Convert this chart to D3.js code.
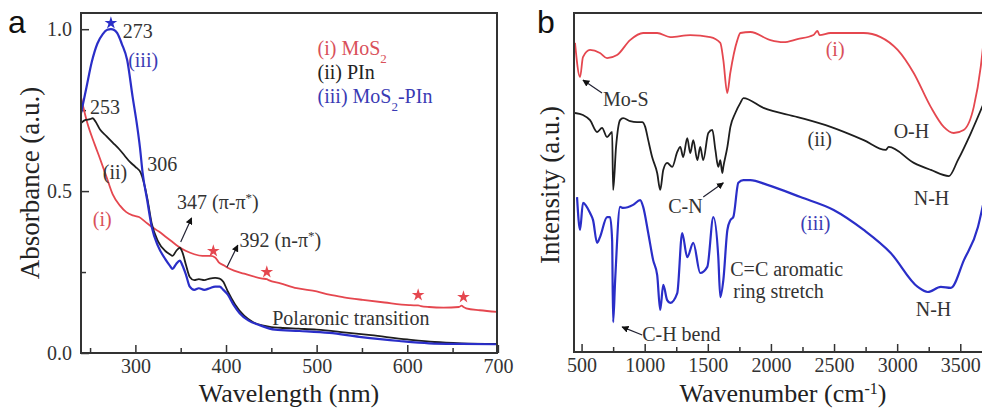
<!DOCTYPE html>
<html>
<head>
<meta charset="utf-8">
<script src="https://cdn.jsdelivr.net/npm/d3@7"></script>
<style>
  body { margin: 0; background: #fff; }
  svg { display: block; }
  svg text { font-family: "Liberation Serif", "Times New Roman", Times, serif; }
</style>
</head>
<body>
<svg id="chart" width="982" height="410"></svg>
<script>
// ---- panel a : UV-vis absorbance ----
const wlMoS2 = [240,247,255,261,268,275,283,290,297,304,311,318,326,333,340,347,356,365,374,383,388,392,398,404,420,440,445,447,460,478,500,514,530,551,575,602,610,612,615,624,640,657,660,662,665,680,699];
const absMoS2 = [0.79,0.71,0.645,0.60,0.545,0.49,0.455,0.435,0.425,0.42,0.405,0.39,0.375,0.36,0.345,0.33,0.315,0.305,0.30,0.30,0.295,0.28,0.27,0.26,0.245,0.23,0.228,0.225,0.215,0.20,0.19,0.18,0.172,0.164,0.156,0.148,0.147,0.147,0.145,0.142,0.14,0.142,0.146,0.142,0.138,0.132,0.127];

const wlPIn = [240,245,250,253,256,261,268,275,282,288,294,300,306,313,318,325,333,338,341,345,349,352,356,360,365,370,376,382,388,393,397,402,410,420,430,440,450,460,480,500,530,560,600,630,660,699];
const absPIn = [0.71,0.72,0.722,0.725,0.715,0.69,0.67,0.65,0.63,0.61,0.59,0.575,0.556,0.48,0.40,0.345,0.315,0.305,0.30,0.315,0.325,0.31,0.27,0.235,0.225,0.228,0.225,0.23,0.232,0.23,0.22,0.19,0.15,0.115,0.095,0.085,0.08,0.078,0.075,0.072,0.064,0.055,0.042,0.034,0.030,0.028];

const wlMoS2PIn = [240,246,252,258,264,269,273,277,280,285,291,297,302,305,308,313,318,325,333,338,341,345,349,352,356,360,365,370,376,382,388,393,397,402,408,415,425,437,454,481,514,547,591,624,660,699];
const absMoS2PIn = [0.74,0.82,0.90,0.955,0.985,0.998,1.0,0.997,0.988,0.955,0.904,0.79,0.70,0.636,0.556,0.472,0.39,0.33,0.29,0.27,0.26,0.275,0.285,0.27,0.24,0.205,0.195,0.20,0.195,0.20,0.205,0.205,0.195,0.18,0.15,0.123,0.10,0.086,0.072,0.068,0.062,0.05,0.037,0.03,0.028,0.027];

const starWlMoS2 = [386,445,612,662];
const starAbsMoS2 = [0.315,0.25,0.179,0.173];
const starWlMix = [273];
const starAbsMix = [1.019];

const xTicksA = [300,400,500,600,700];
const xMinorA = [250,350,450,550,650];
const yTicksA = [0.0,0.5,1.0];
const yMinorA = [0.25,0.75];

// ---- panel b : FTIR ----
const wnMoS2 = [448,488,511,567,646,702,781,884,988,1099,1202,1361,1519,1599,1623,1654,1678,1734,1758,1837,1996,2099,2210,2337,2369,2385,2472,2734,2869,3004,3131,3266,3369,3448,3527,3607,3662,3680];
const intMoS2 = [0.912,0.811,0.870,0.891,0.882,0.867,0.876,0.920,0.941,0.941,0.929,0.935,0.929,0.912,0.861,0.764,0.823,0.920,0.941,0.944,0.920,0.914,0.923,0.935,0.947,0.935,0.941,0.941,0.929,0.891,0.823,0.723,0.664,0.646,0.655,0.723,0.841,0.90];

const wnPIn = [448,511,567,623,662,702,742,750,773,805,829,885,940,980,1004,1028,1059,1099,1123,1147,1178,1218,1258,1282,1305,1337,1361,1385,1417,1440,1464,1504,1536,1560,1583,1599,1615,1623,1655,1679,1718,1758,1782,1941,2211,2473,2735,2909,2933,3132,3267,3410,3481,3584,3680];
const intPIn = [0.705,0.699,0.684,0.649,0.661,0.634,0.649,0.478,0.605,0.684,0.690,0.681,0.678,0.678,0.664,0.625,0.575,0.528,0.478,0.537,0.558,0.546,0.590,0.605,0.575,0.631,0.587,0.625,0.566,0.605,0.566,0.646,0.655,0.596,0.546,0.566,0.528,0.546,0.605,0.664,0.705,0.735,0.749,0.720,0.693,0.664,0.625,0.596,0.605,0.558,0.537,0.519,0.566,0.646,0.729];

const wnMoS2PIn = [464,488,511,567,591,623,646,702,726,742,750,766,805,829,908,964,988,1028,1067,1099,1123,1147,1178,1202,1258,1297,1337,1385,1440,1496,1544,1583,1599,1623,1655,1679,1702,1742,1782,1837,1972,2234,2497,2735,2949,3163,3243,3346,3425,3529,3640,3680];
const intMoS2PIn = [0.457,0.360,0.440,0.410,0.389,0.322,0.339,0.398,0.398,0.330,0.088,0.212,0.428,0.425,0.434,0.448,0.428,0.351,0.271,0.227,0.124,0.198,0.153,0.145,0.174,0.351,0.280,0.322,0.233,0.251,0.398,0.280,0.162,0.212,0.360,0.389,0.398,0.499,0.507,0.507,0.493,0.457,0.419,0.360,0.292,0.192,0.177,0.192,0.189,0.271,0.369,0.434];

const xTicksB = [500,1000,1500,2000,2500,3000,3500];
const xMinorB = [750,1250,1750,2250,2750,3250];

const RED = "#e5474f", BLACK = "#1e1e1e", BLUE = "#2a2ec8";
const SERIF = "Liberation Serif";

const svg = d3.select("#chart");
svg.append("rect").attr("width", 982).attr("height", 410).attr("fill", "#fff");

const defs = svg.append("defs");
defs.append("marker")
    .attr("id", "arrow")
    .attr("viewBox", "0 0 10 10")
    .attr("refX", 9).attr("refY", 5)
    .attr("markerWidth", 7).attr("markerHeight", 7)
    .attr("markerUnits", "userSpaceOnUse")
    .attr("orient", "auto")
    .append("path")
    .attr("d", "M0,0 L10,5 L0,10 z")
    .attr("fill", "#111");

// scales
const xA = d3.scaleLinear().domain([240, 699]).range([81, 497]);
const yA = d3.scaleLinear().domain([0, 1.05]).range([353, 13]);
const xB = d3.scaleLinear().domain([440, 3680]).range([574, 983]);
const yB = d3.scaleLinear().domain([0, 1]).range([352, 13]);

function styleAxis(g, size) {
    g.attr("font-family", SERIF);
    g.select(".domain").remove();
    g.selectAll(".tick line").attr("stroke", "#333").attr("stroke-width", 1.5);
    g.selectAll(".tick text")
        .attr("fill", "#333")
        .attr("font-family", SERIF)
        .attr("font-size", size);
}

// ---------- panel a ----------
const pa = svg.append("g");

pa.append("g")
    .attr("transform", "translate(0,353)")
    .call(d3.axisBottom(xA).tickValues(xTicksA).tickSize(-8).tickPadding(6).tickFormat(d3.format("d")))
    .call(g => styleAxis(g, 20));
pa.append("g")
    .attr("transform", "translate(0,353)")
    .call(d3.axisBottom(xA).tickValues(xMinorA).tickSize(-5).tickFormat(""))
    .call(g => styleAxis(g, 20));
pa.append("g")
    .attr("transform", "translate(81,0)")
    .call(d3.axisLeft(yA).tickValues(yTicksA).tickSize(-8).tickPadding(9).tickFormat(d3.format(".1f")))
    .call(g => styleAxis(g, 20));
pa.append("g")
    .attr("transform", "translate(81,0)")
    .call(d3.axisLeft(yA).tickValues(yMinorA).tickSize(-5).tickFormat(""))
    .call(g => styleAxis(g, 20));

const lineA = d3.line().x(d => xA(d[0])).y(d => yA(d[1])).curve(d3.curveMonotoneX);
const seriesA = [
    { wl: wlMoS2, v: absMoS2, color: RED, w: 1.8 },
    { wl: wlPIn, v: absPIn, color: BLACK, w: 1.8 },
    { wl: wlMoS2PIn, v: absMoS2PIn, color: BLUE, w: 2.2 }
];
pa.selectAll(".lineA")
    .data(seriesA)
    .enter()
    .append("path")
    .attr("class", "lineA")
    .attr("d", d => lineA(d.wl.map((w, i) => [w, d.v[i]])))
    .attr("fill", "none")
    .attr("stroke", d => d.color)
    .attr("stroke-width", d => d.w)
    .attr("stroke-linejoin", "round");

const star = d3.symbol().type(d3.symbolStar).size(50);
pa.selectAll(".starRed")
    .data(starWlMoS2.map((w, i) => [w, starAbsMoS2[i]]))
    .enter()
    .append("path")
    .attr("d", star)
    .attr("transform", d => `translate(${xA(d[0])},${yA(d[1])})`)
    .attr("fill", RED);
pa.selectAll(".starBlue")
    .data(starWlMix.map((w, i) => [w, starAbsMix[i]]))
    .enter()
    .append("path")
    .attr("d", star)
    .attr("transform", d => `translate(${xA(d[0])},${yA(d[1])})`)
    .attr("fill", BLUE);

pa.append("rect")
    .attr("x", 81).attr("y", 13)
    .attr("width", 416).attr("height", 340)
    .attr("fill", "none").attr("stroke", "#333").attr("stroke-width", 2);

// annotations, positions in data units
function addText(g, xs, ys, d) {
    const t = g.append("text")
        .attr("x", xs(d.x)).attr("y", ys(d.y))
        .attr("fill", d.c || "#333")
        .attr("font-family", SERIF)
        .attr("font-size", d.s || 20);
    d.parts.forEach(p => {
        const sp = t.append("tspan").text(p[0]);
        if (p[1] === "sub") sp.attr("baseline-shift", "sub").attr("font-size", 13);
        if (p[1] === "sup") sp.attr("baseline-shift", "super").attr("font-size", 13);
    });
}
const notesA = [
    { x: 286, y: 0.972, parts: [["273"]] },
    { x: 292, y: 0.883, parts: [["(iii)"]], c: "#3a3ab4" },
    { x: 250, y: 0.738, parts: [["253"]] },
    { x: 313, y: 0.562, parts: [["306"]] },
    { x: 264, y: 0.537, parts: [["(ii)"]] },
    { x: 253, y: 0.392, parts: [["(i)"]], c: "#d9505a" },
    { x: 346, y: 0.444, parts: [["347 (π-π"], ["*", "sup"], [")"]] },
    { x: 415, y: 0.327, parts: [["392 (n-π"], ["*", "sup"], [")"]] },
    { x: 451, y: 0.086, parts: [["Polaronic transition"]] },
    { x: 501, y: 0.92, parts: [["(i) MoS"], ["2", "sub"]], c: "#d9505a" },
    { x: 501, y: 0.846, parts: [["(ii) PIn"]], c: "#222" },
    { x: 501, y: 0.772, parts: [["(iii) MoS"], ["2", "sub"], ["-PIn"]], c: "#3a3ab4" }
];
notesA.forEach(d => addText(pa, xA, yA, d));

const arrowsA = [
    [[350, 0.343], [362, 0.417]],
    [[401, 0.265], [413, 0.333]]
];
arrowsA.forEach(a => {
    pa.append("line")
        .attr("x1", xA(a[0][0])).attr("y1", yA(a[0][1]))
        .attr("x2", xA(a[1][0])).attr("y2", yA(a[1][1]))
        .attr("stroke", "#223").attr("stroke-width", 1.2)
        .attr("marker-end", "url(#arrow)");
});

pa.append("text")
    .attr("transform", "translate(39,183) rotate(-90)")
    .attr("text-anchor", "middle")
    .attr("fill", "#222")
    .attr("font-family", SERIF).attr("font-size", 27)
    .text("Absorbance (a.u.)");
pa.append("text")
    .attr("x", 289).attr("y", 402)
    .attr("text-anchor", "middle")
    .attr("fill", "#222")
    .attr("font-family", SERIF).attr("font-size", 26)
    .text("Wavelength (nm)");
pa.append("text")
    .attr("x", 8).attr("y", 33)
    .attr("fill", "#111")
    .attr("font-family", "Liberation Sans").attr("font-size", 32)
    .style("font-family", "'Liberation Sans', Arial, sans-serif")
    .text("a");

// ---------- panel b ----------
const pb = svg.append("g");

pb.append("g")
    .attr("transform", "translate(0,352)")
    .call(d3.axisBottom(xB).tickValues(xTicksB).tickSize(-8).tickPadding(6).tickFormat(d3.format("d")))
    .call(g => styleAxis(g, 20));
pb.append("g")
    .attr("transform", "translate(0,352)")
    .call(d3.axisBottom(xB).tickValues(xMinorB).tickSize(-5).tickFormat(""))
    .call(g => styleAxis(g, 20));

const lineB = d3.line().x(d => xB(d[0])).y(d => yB(d[1])).curve(d3.curveMonotoneX);
const seriesB = [
    { wn: wnMoS2, v: intMoS2, color: RED, w: 1.8 },
    { wn: wnPIn, v: intPIn, color: BLACK, w: 1.8 },
    { wn: wnMoS2PIn, v: intMoS2PIn, color: BLUE, w: 2.2 }
];
pb.selectAll(".lineB")
    .data(seriesB)
    .enter()
    .append("path")
    .attr("class", "lineB")
    .attr("d", d => lineB(d.wn.map((w, i) => [w, d.v[i]])))
    .attr("fill", "none")
    .attr("stroke", d => d.color)
    .attr("stroke-width", d => d.w)
    .attr("stroke-linejoin", "round");

pb.append("rect")
    .attr("x", 574).attr("y", 13)
    .attr("width", 411).attr("height", 339)
    .attr("fill", "none").attr("stroke", "#333").attr("stroke-width", 2);

const notesB = [
    { x: 2434, y: 0.873, parts: [["(i)"]], c: "#d9505a" },
    { x: 670, y: 0.726, parts: [["Mo-S"]] },
    { x: 2290, y: 0.608, parts: [["(ii)"]] },
    { x: 2972, y: 0.631, parts: [["O-H"]] },
    { x: 3131, y: 0.434, parts: [["N-H"]] },
    { x: 1186, y: 0.41, parts: [["C-N"]] },
    { x: 2234, y: 0.36, parts: [["(iii)"]], c: "#3a3ab4" },
    { x: 1678, y: 0.224, parts: [["C=C aromatic"]] },
    { x: 1702, y: 0.159, parts: [["ring stretch"]] },
    { x: 3147, y: 0.106, parts: [["N-H"]] },
    { x: 980, y: 0.032, parts: [["C-H bend"]] }
];
notesB.forEach(d => addText(pb, xB, yB, d));

const arrowsB = [
    [[662, 0.764], [511, 0.802]],
    [[1464, 0.457], [1623, 0.499]],
    [[980, 0.050], [821, 0.074]]
];
arrowsB.forEach(a => {
    pb.append("line")
        .attr("x1", xB(a[0][0])).attr("y1", yB(a[0][1]))
        .attr("x2", xB(a[1][0])).attr("y2", yB(a[1][1]))
        .attr("stroke", "#223").attr("stroke-width", 1.2)
        .attr("marker-end", "url(#arrow)");
});

pb.append("text")
    .attr("transform", "translate(559,185) rotate(-90)")
    .attr("text-anchor", "middle")
    .attr("fill", "#222")
    .attr("font-family", SERIF).attr("font-size", 27)
    .text("Intensity (a.u.)");
const xt = pb.append("text")
    .attr("x", 783).attr("y", 402)
    .attr("text-anchor", "middle")
    .attr("fill", "#222")
    .attr("font-family", SERIF).attr("font-size", 26);
xt.append("tspan").text("Wavenumber (cm");
xt.append("tspan").attr("baseline-shift", "super").attr("font-size", 16).text("-1");
xt.append("tspan").text(")");
pb.append("text")
    .attr("x", 537).attr("y", 33)
    .attr("fill", "#111")
    .attr("font-family", "Liberation Sans").attr("font-size", 32)
    .style("font-family", "'Liberation Sans', Arial, sans-serif")
    .text("b");
</script>
</body>
</html>
